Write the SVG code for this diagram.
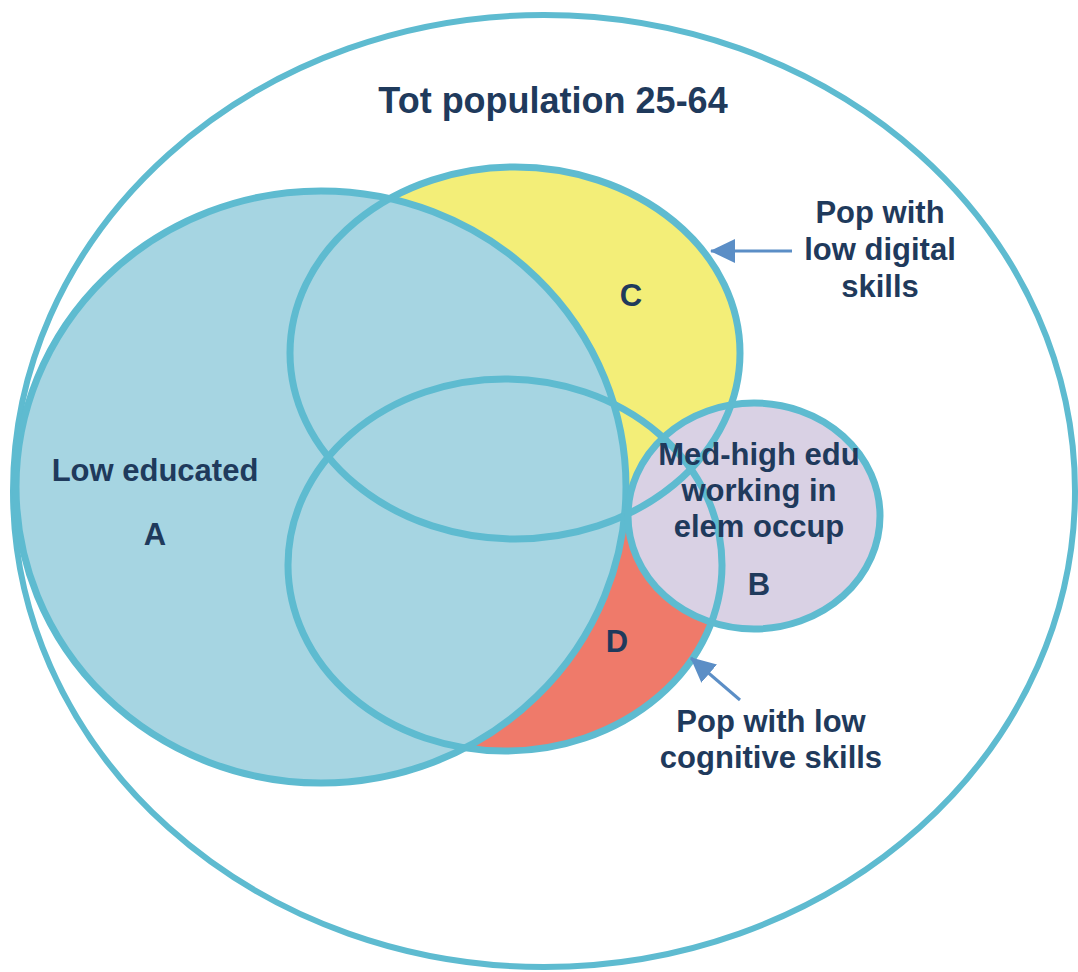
<svg xmlns="http://www.w3.org/2000/svg" width="1078" height="972" viewBox="0 0 1078 972">
<defs>
<style>
.lbl{font-family:"Liberation Sans",Arial,sans-serif;font-weight:bold;font-size:31px;fill:#1F3A5C;text-anchor:middle}
.title{font-size:36px}
.ol{fill:none;stroke:#5EBBD0;stroke-width:7}
.arr{stroke:#5B8EC6;stroke-width:3;fill:none}
</style>
<marker id="ah" markerWidth="25" markerHeight="24" refX="24" refY="12" orient="auto" markerUnits="userSpaceOnUse" viewBox="0 0 25 24">
<path d="M0,0 L25,12 L0,24 z" fill="#5B8EC6"/>
</marker>
</defs>
<rect width="1078" height="972" fill="#FFFFFF"/>
<g id="total">
<ellipse cx="544" cy="491" rx="531" ry="476" fill="none" stroke="#5EBBD0" stroke-width="6"/>
<text class="lbl title" x="553" y="113">Tot population 25-64</text>
</g>
<g id="fills">
<ellipse id="fillD" cx="505" cy="565" rx="217" ry="186" fill="#EF7A6A"/>
<ellipse id="fillC" cx="515" cy="353" rx="225" ry="186" fill="#F3EE78"/>
<ellipse id="fillA" cx="321" cy="487" rx="305" ry="296" fill="#A6D5E2"/>
<ellipse id="fillB" cx="754" cy="516" rx="126" ry="113" fill="#D9D1E4"/>
</g>
<g id="outlines">
<ellipse class="ol" cx="505" cy="565" rx="217" ry="186"/>
<ellipse class="ol" cx="515" cy="353" rx="225" ry="186"/>
<ellipse class="ol" cx="321" cy="487" rx="305" ry="296"/>
<ellipse class="ol" cx="754" cy="516" rx="126" ry="113"/>
</g>
<g id="nodeA">
<text class="lbl" x="155" y="481">Low educated</text>
<text class="lbl" x="155" y="545">A</text>
</g>
<g id="nodeB">
<text class="lbl" x="759" y="465">Med-high edu</text>
<text class="lbl" x="759" y="501">working in</text>
<text class="lbl" x="759" y="537">elem occup</text>
<text class="lbl" x="759" y="595">B</text>
</g>
<g id="nodeC">
<text class="lbl" x="631" y="306">C</text>
</g>
<g id="nodeD">
<text class="lbl" x="617" y="652">D</text>
</g>
<g id="labelDigital">
<text class="lbl" x="880" y="223">Pop with</text>
<text class="lbl" x="880" y="260">low digital</text>
<text class="lbl" x="880" y="297">skills</text>
</g>
<g id="labelCognitive">
<text class="lbl" x="771" y="732">Pop with low</text>
<text class="lbl" x="771" y="768">cognitive skills</text>
</g>
<g id="connectors">
<line class="arr" x1="792" y1="251" x2="711" y2="251" marker-end="url(#ah)"/>
<line class="arr" x1="740" y1="700" x2="691" y2="658" marker-end="url(#ah)"/>
</g>
</svg>
